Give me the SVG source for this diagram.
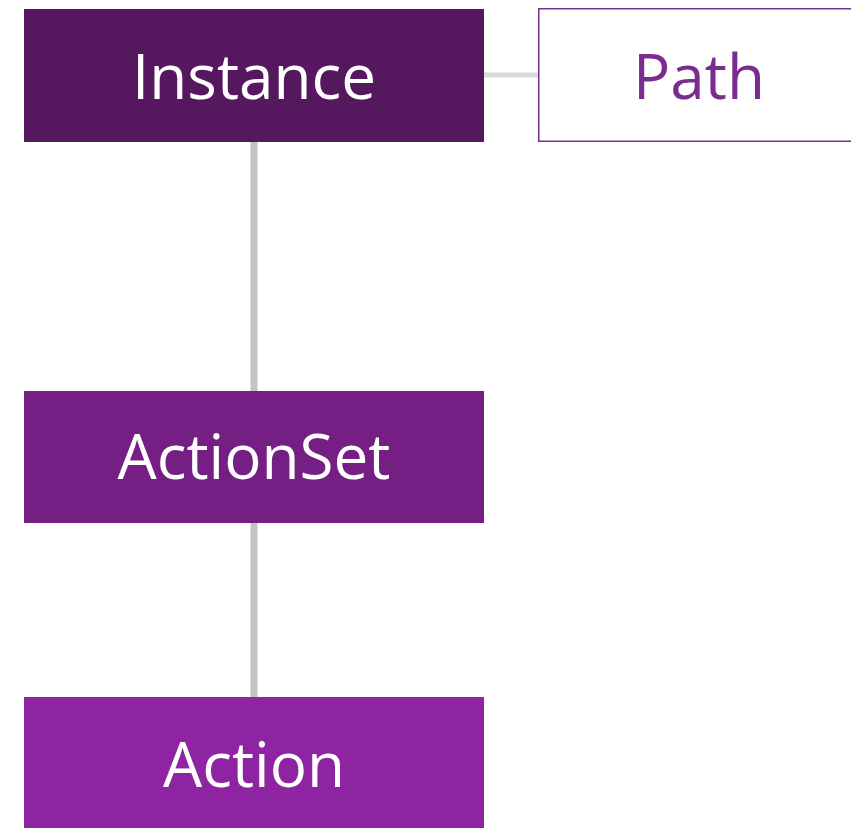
<svg xmlns="http://www.w3.org/2000/svg" width="851" height="828" viewBox="0 0 851 828">
  <style>
    .lbl { font-family: "Open Sans", "Liberation Sans", sans-serif; font-size: 62px; text-anchor: middle; }
    .fill-text { fill: #ffffff; }
    .link { stroke-linecap: butt; fill: none; }
  </style>
  <rect width="851" height="828" fill="#ffffff"/>
  <g id="connectors">
    <line class="link" x1="254" y1="142" x2="254" y2="391" stroke="#c4c4c4" stroke-width="7"/>
    <line class="link" x1="254" y1="523" x2="254" y2="697" stroke="#c4c4c4" stroke-width="7"/>
    <line class="link" x1="484" y1="75" x2="538" y2="75" stroke="#d9d9d9" stroke-width="5"/>
  </g>
  <g id="instance">
    <rect x="24" y="9" width="460" height="133" fill="#55175e"/>
    <text class="lbl fill-text" x="254" y="99">Instance</text>
  </g>
  <g id="path">
    <rect x="538.75" y="8.75" width="330" height="132.5" fill="#ffffff" stroke="#7b2c91" stroke-width="1.5"/>
    <text class="lbl" x="699" y="99" fill="#7b2c91">Path</text>
  </g>
  <g id="actionset">
    <rect x="24" y="391" width="460" height="132" fill="#751e84"/>
    <text class="lbl fill-text" x="254" y="479">ActionSet</text>
  </g>
  <g id="action">
    <rect x="24" y="697" width="460" height="131" fill="#8f24a3"/>
    <text class="lbl fill-text" x="254" y="787">Action</text>
  </g>
</svg>
